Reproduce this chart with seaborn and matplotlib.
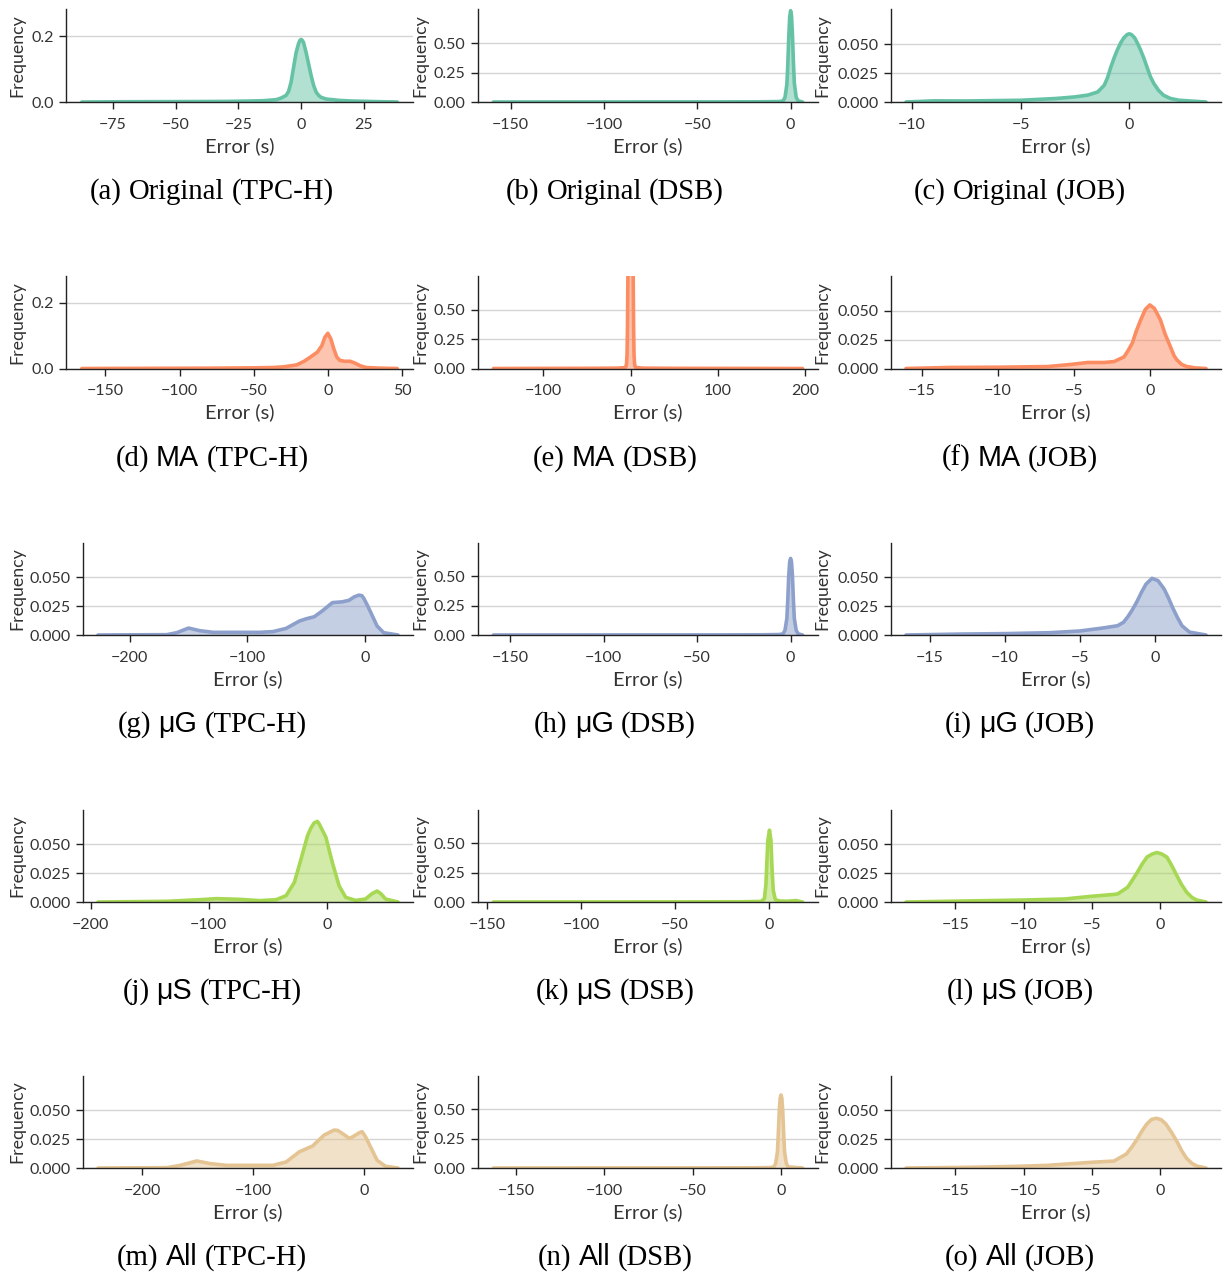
import matplotlib
matplotlib.use("Agg")
import matplotlib.pyplot as plt
import seaborn as sns
from matplotlib.ticker import FormatStrFormatter

# ---------------- density curves: error (s) -> frequency ----------------
# Row 1: Original
tpch_original_err = [-87.4, -70, -50, -30, -20, -15, -10, -8, -6, -5, -4, -3, -2, -1, -0.5,
                     0, 0.5, 1, 2, 3, 4, 5, 6, 7, 8, 10, 15, 20, 30, 38.3]
tpch_original_freq = [0.0, 0.0008, 0.0012, 0.0018, 0.003, 0.004, 0.007, 0.012, 0.02, 0.032,
                      0.06, 0.105, 0.15, 0.178, 0.187, 0.19, 0.187, 0.18, 0.15, 0.115,
                      0.08, 0.05, 0.03, 0.02, 0.014, 0.009, 0.005, 0.003, 0.0012, 0.0]

dsb_original_err = [-159.3, -120, -80, -40, -15, -6, -4, -3, -2, -1.5, -1, -0.5, 0,
                    0.5, 1, 1.5, 2, 3, 4, 6.4]
dsb_original_freq = [0.0, 0.0005, 0.0008, 0.001, 0.002, 0.004, 0.01, 0.04, 0.15, 0.32,
                     0.55, 0.72, 0.775, 0.73, 0.57, 0.34, 0.16, 0.04, 0.01, 0.0]

job_original_err = [-10.27, -9, -7.5, -5, -3.4, -2.5, -1.9, -1.45, -1.15, -1.0, -0.85,
                    -0.7, -0.55, -0.4, -0.25, -0.1, 0, 0.1, 0.25, 0.4, 0.52, 0.67, 0.82,
                    0.97, 1.13, 1.35, 1.58, 1.9, 2.3, 3.53]
job_original_freq = [0.0, 0.001, 0.0009, 0.0015, 0.003, 0.0044, 0.006, 0.0087, 0.0145,
                     0.021, 0.030, 0.038, 0.045, 0.051, 0.0555, 0.0583, 0.059, 0.0583,
                     0.0555, 0.050, 0.045, 0.038, 0.030, 0.022, 0.016, 0.010, 0.0058,
                     0.003, 0.0015, 0.0]

# Row 2: MA
tpch_ma_err = [-166, -120, -80, -50, -37, -30, -21, -16, -12, -7, -4, -2, 0, 2, 4, 6, 8,
               11, 15, 18, 22, 26, 35, 46.8]
tpch_ma_freq = [0.0, 0.0005, 0.001, 0.002, 0.003, 0.005, 0.011, 0.022, 0.034, 0.05, 0.07,
                0.095, 0.107, 0.09, 0.06, 0.035, 0.025, 0.022, 0.022, 0.017, 0.008,
                0.003, 0.001, 0.0]

dsb_ma_err = [-157.0, -100, -50, -15, -6, -5, -4.5, -4, -3.5, -3, -2, -1, 0, 1, 2, 3, 3.5,
              4, 4.5, 5, 6, 15, 50, 100, 197.0]
dsb_ma_freq = [0.0, 0.001, 0.0015, 0.003, 0.008, 0.02, 0.05, 0.12, 0.35, 0.8, 1.8, 2.6,
               2.8, 2.6, 1.8, 0.8, 0.35, 0.12, 0.05, 0.02, 0.008, 0.003, 0.0015, 0.001, 0.0]

job_ma_err = [-16.05, -13.2, -10, -6.7, -5.2, -4.1, -3.0, -2.35, -1.7, -1.45, -1.15, -0.9,
              -0.6, -0.3, 0, 0.3, 0.7, 1.0, 1.35, 1.6, 1.78, 2.1, 2.43, 3.0, 3.7]
job_ma_freq = [0.0, 0.0009, 0.0011, 0.0017, 0.0035, 0.0052, 0.0052, 0.006, 0.010, 0.015,
               0.022, 0.032, 0.042, 0.051, 0.055, 0.052, 0.042, 0.030, 0.019, 0.011,
               0.0075, 0.0035, 0.0017, 0.0005, 0.0]

# Row 3: muG
tpch_mug_err = [-227, -168.5, -160, -150, -140.3, -129, -112, -89.6, -78.4, -67, -55.8,
                -50, -43, -36, -27.6, -19.2, -13.5, -9, -5, -2.5, -0.85, 2, 4.8, 10.4,
                16, 28.2]
tpch_mug_freq = [0.0, 0.0003, 0.002, 0.006, 0.0037, 0.0023, 0.0023, 0.0023, 0.0029,
                 0.0057, 0.012, 0.014, 0.0158, 0.021, 0.028, 0.0287, 0.030, 0.033,
                 0.0345, 0.034, 0.0316, 0.026, 0.020, 0.0078, 0.002, 0.0]

dsb_mug_err = [-159, -120, -80, -40, -15, -6, -4, -3, -2, -1.5, -1, -0.5, 0, 0.5, 1, 1.5,
               2, 3, 4, 6.4]
dsb_mug_freq = [0.0, 0.0005, 0.0008, 0.001, 0.002, 0.004, 0.01, 0.04, 0.14, 0.3, 0.5,
                0.62, 0.65, 0.62, 0.5, 0.3, 0.14, 0.04, 0.01, 0.0]

job_mug_err = [-16.6, -13, -10, -7, -5, -3.5, -2.5, -2.1, -1.8, -1.5, -1.2, -0.9, -0.6,
               -0.2, 0.2, 0.6, 0.9, 1.2, 1.5, 1.8, 2.3, 3.4]
job_mug_freq = [0.0, 0.0008, 0.0012, 0.002, 0.0035, 0.006, 0.008, 0.011, 0.016, 0.022,
                0.029, 0.037, 0.044, 0.049, 0.047, 0.040, 0.032, 0.023, 0.015, 0.008,
                0.0025, 0.0]

# Row 4: muS
tpch_mus_err = [-193.9, -135.5, -107.5, -93.4, -73.8, -57, -43, -34.5, -27.5, -21.9,
                -16.3, -13.5, -10.7, -8, -6.5, -0.8, 4.7, 10.4, 16, 24.4, 32.8, 38,
                42.6, 46, 49.7, 60.3]
tpch_mus_freq = [0.0, 0.0006, 0.002, 0.0029, 0.0023, 0.0012, 0.002, 0.0055, 0.017,
                 0.037, 0.0575, 0.064, 0.0685, 0.0697, 0.0676, 0.056, 0.034, 0.014,
                 0.004, 0.0014, 0.0026, 0.007, 0.0095, 0.007, 0.0026, 0.0]

dsb_mus_err = [-146.6, -100, -50, -15, -4, -2.3, -1.5, -1.1, -0.5, 0.4, 1.2, 1.7, 2.4,
               3.5, 6, 10, 14.5, 18]
dsb_mus_freq = [0.0, 0.0005, 0.001, 0.002, 0.005, 0.03, 0.15, 0.3, 0.52, 0.61, 0.52,
                0.3, 0.1, 0.02, 0.008, 0.007, 0.012, 0.0]

job_mus_err = [-18.6, -14.2, -10.1, -7.0, -5.07, -3.86, -3.14, -2.4, -2.05, -1.69, -1.33,
               -0.97, -0.6, -0.25, 0.1, 0.48, 0.85, 1.2, 1.55, 1.92, 2.3, 2.65, 3.33]
job_mus_freq = [0.0, 0.0009, 0.0017, 0.0026, 0.0049, 0.0061, 0.0069, 0.0127, 0.019,
                0.0257, 0.033, 0.039, 0.0415, 0.0428, 0.0415, 0.0387, 0.031, 0.0228,
                0.015, 0.0084, 0.004, 0.0017, 0.0]

# Row 5: All
tpch_all_err = [-239.5, -177.5, -165.6, -150.7, -138.8, -124, -100, -82.3, -70.4, -58.5,
                -46.6, -36.2, -31, -27.2, -24, -17, -13.8, -10.5, -4.5, -2, 1, 4, 11.4,
                18.9, 30.2]
tpch_all_freq = [0.0, 0.0003, 0.0023, 0.0061, 0.0038, 0.0023, 0.0023, 0.0023, 0.0052,
                 0.014, 0.019, 0.0285, 0.031, 0.0328, 0.0325, 0.028, 0.0256, 0.027,
                 0.0305, 0.0314, 0.027, 0.0212, 0.0067, 0.0015, 0.0]

dsb_all_err = [-162.8, -120, -80, -40, -15, -6, -4, -3, -2, -1.5, -1, -0.5, 0, 0.5, 1,
               1.5, 2, 3, 4, 12.2]
dsb_all_freq = [0.0, 0.0005, 0.0008, 0.001, 0.002, 0.004, 0.01, 0.04, 0.14, 0.3, 0.48,
                0.59, 0.62, 0.59, 0.48, 0.3, 0.14, 0.04, 0.01, 0.0]

job_all_err = [-18.6, -14, -10.6, -8.25, -5.1, -3.4, -2.5, -2.1, -1.7, -1.35, -1.0, -0.65,
               -0.3, 0.05, 0.4, 0.8, 1.2, 1.55, 1.9, 2.3, 2.65, 3.33]
job_all_freq = [0.0, 0.0006, 0.0014, 0.0023, 0.0049, 0.006, 0.012, 0.018, 0.025, 0.032,
                0.038, 0.042, 0.043, 0.0418, 0.038, 0.031, 0.023, 0.015, 0.0085, 0.004,
                0.0017, 0.0]

# ---------------- tick labels ----------------
tpch_original_xticks = [-75, -50, -25, 0, 25]
tpch_ma_xticks = [-150, -100, -50, 0, 50]
tpch_mug_xticks = [-200, -100, 0]
tpch_mus_xticks = [-200, -100, 0]
tpch_all_xticks = [-200, -100, 0]
dsb_xticks = [-150, -100, -50, 0]
dsb_ma_xticks = [-100, 0, 100, 200]
job_original_xticks = [-10, -5, 0]
job_xticks = [-15, -10, -5, 0]

yticks_wide = [0.0, 0.2]
yticks_dsb = [0.0, 0.25, 0.5]
yticks_fine = [0.0, 0.025, 0.05]

methods = ["Original", "MA", "\u03bcG", "\u03bcS", "All"]
workloads = ["TPC-H", "DSB", "JOB"]
letters = "abcdefghijklmno"

# ---------------- style ----------------
palette = sns.color_palette("Set2", 8)
row_colors = [palette[0], palette[1], palette[2], palette[4], palette[6]]

sns.set_theme(style="ticks", rc={
    "axes.edgecolor": "#222222",
    "axes.linewidth": 1.0,
    "xtick.color": "#222222",
    "ytick.color": "#222222",
    "xtick.labelcolor": "#333333",
    "ytick.labelcolor": "#333333",
    "xtick.major.size": 5,
    "ytick.major.size": 5,
    "xtick.major.width": 1.0,
    "ytick.major.width": 1.0,
    "xtick.major.pad": 6.5,
    "ytick.major.pad": 4,
    "grid.color": "#d4d4d4",
    "grid.linewidth": 1.0,
})
plt.rcParams["font.family"] = ["Lato", "DejaVu Sans"]

W, H, DPI = 1228, 1273, 100
fig = plt.figure(figsize=(W / DPI, H / DPI), dpi=DPI)

TICK_FS = 11.5
XLABEL_FS = 14.5
YLABEL_FS = 12.8
CAP_FS = 20.7

row_top = [9.5, 276.0, 542.5, 809.5, 1075.5]
ax_h = 92.5
col_right = [413, 818, 1221]
col_left_wide = [66, 478, 891]
col_left_fine = [83, 478, 891]
cap_cx = [212, 615, 1020]
ylabel_cx = [17.5, 420, 822]

curves = [
    [(tpch_original_err, tpch_original_freq), (dsb_original_err, dsb_original_freq),
     (job_original_err, job_original_freq)],
    [(tpch_ma_err, tpch_ma_freq), (dsb_ma_err, dsb_ma_freq), (job_ma_err, job_ma_freq)],
    [(tpch_mug_err, tpch_mug_freq), (dsb_mug_err, dsb_mug_freq),
     (job_mug_err, job_mug_freq)],
    [(tpch_mus_err, tpch_mus_freq), (dsb_mus_err, dsb_mus_freq),
     (job_mus_err, job_mus_freq)],
    [(tpch_all_err, tpch_all_freq), (dsb_all_err, dsb_all_freq),
     (job_all_err, job_all_freq)],
]
xticks = [
    [tpch_original_xticks, dsb_xticks, job_original_xticks],
    [tpch_ma_xticks, dsb_ma_xticks, job_xticks],
    [tpch_mug_xticks, dsb_xticks, job_xticks],
    [tpch_mus_xticks, dsb_xticks, job_xticks],
    [tpch_all_xticks, dsb_xticks, job_xticks],
]


def frac_box(left, top, right, height):
    return [left / W, 1 - (top + height) / H, (right - left) / W, height / H]


renderer = fig.canvas.get_renderer()


def caption(cx, baseline, pieces):
    """Centre a caption made of (text, family) pieces on cx."""
    gap = 0.25 * CAP_FS * DPI / 72
    items = []
    for text, fam in pieces:
        t = fig.text(0, 0, text, family=fam, fontsize=CAP_FS, color="black",
                     ha="left", va="baseline")
        items.append((t, t.get_window_extent(renderer).width))
    total = sum(w for _, w in items) + gap * (len(items) - 1)
    x = cx - total / 2
    for t, w in items:
        t.set_position((x / W, 1 - baseline / H))
        x += w + gap


for r in range(5):
    top = row_top[r]
    for c in range(3):
        if c == 1:
            ylim, yt, fmt = (0, 0.785), yticks_dsb, "%.2f"
        elif c == 0 and r < 2:
            ylim, yt, fmt = (0, 0.281), yticks_wide, "%.1f"
        else:
            ylim, yt, fmt = (0, 0.080), yticks_fine, "%.3f"
        left = col_left_wide[c] if (c != 0 or r < 2) else col_left_fine[c]
        ax = fig.add_axes(frac_box(left, top, col_right[c], ax_h))
        x, y = curves[r][c]
        color = row_colors[r]
        ax.fill_between(x, y, 0, color=color, alpha=0.5, linewidth=0)
        sns.lineplot(x=x, y=y, ax=ax, color=color, linewidth=2.6, sort=False,
                     estimator=None)
        ax.set_ylim(*ylim)
        ax.set_yticks(yt)
        ax.yaxis.set_major_formatter(FormatStrFormatter(fmt))
        ax.set_xticks(xticks[r][c])
        ax.tick_params(labelsize=TICK_FS)
        ax.grid(axis="y", color="#d4d4d4", linewidth=1.0)
        ax.set_axisbelow(True)
        sns.despine(ax=ax)
        ax.set_xlabel("")
        ax.set_ylabel("")
        cx_axes = (left + col_right[c]) / 2
        fig.text(cx_axes / W, 1 - (top + ax_h + 44) / H, "Error (s)",
                 fontsize=XLABEL_FS, color="#333333", ha="center", va="center")
        fig.text(ylabel_cx[c] / W, 1 - (top + ax_h / 2) / H, "Frequency",
                 fontsize=YLABEL_FS, color="#333333", ha="center", va="center",
                 rotation=90)

        idx = r * 3 + c
        label = f"({letters[idx]})"
        wl = f"({workloads[c]})"
        if r == 0:
            pieces = [(label, "Liberation Serif"), ("Original", "Liberation Serif"),
                      (wl, "Liberation Serif")]
        else:
            pieces = [(label, "Liberation Serif"), (methods[r], "Liberation Sans"),
                      (wl, "Liberation Serif")]
        caption(cap_cx[c], top + 189.5, pieces)

fig.savefig("out.png", dpi=DPI)
